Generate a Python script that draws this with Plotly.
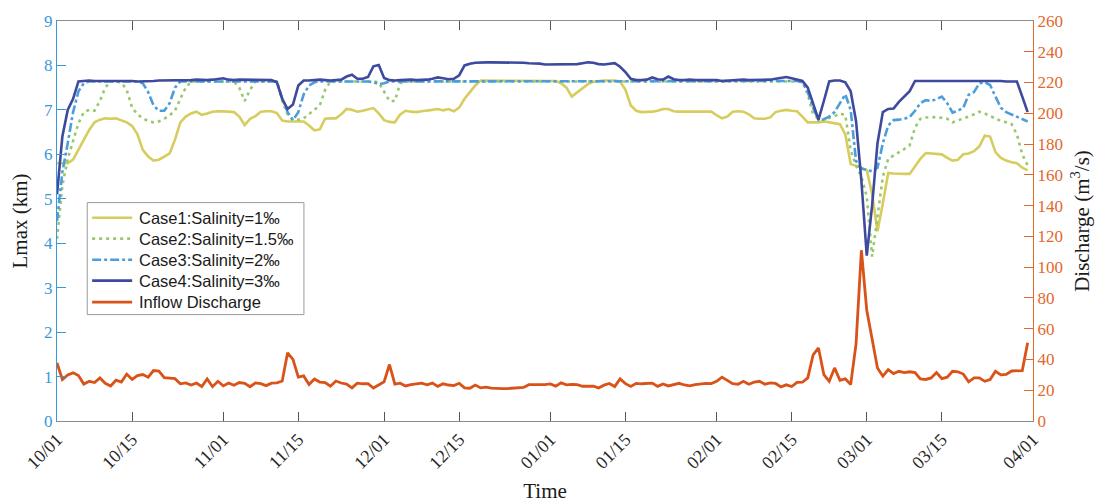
import pandas as pd
import plotly.graph_objects as go

# Daily series, 1 Oct to 31 Mar
start_date = "2018-10-01"

case1 = [
    5.80, 5.80, 5.80, 5.88, 6.10, 6.35, 6.55, 6.72, 6.78, 6.81,
    6.80, 6.81, 6.77, 6.72, 6.64, 6.45, 6.10, 5.95, 5.86, 5.88,
    5.95, 6.02, 6.33, 6.72, 6.85, 6.92, 6.96, 6.89, 6.92, 6.96,
    6.97, 6.97, 6.96, 6.95, 6.85, 6.66, 6.80, 6.86, 6.96, 6.97,
    6.97, 6.93, 6.76, 6.74, 6.74, 6.74, 6.74, 6.65, 6.54, 6.56,
    6.80, 6.81, 6.81, 6.90, 7.02, 7.00, 6.96, 6.98, 7.01, 7.04,
    6.92, 6.77, 6.73, 6.72, 6.90, 6.98, 6.96, 6.95, 6.97, 6.98,
    7.00, 7.02, 6.99, 7.02, 6.97, 7.05, 7.25, 7.40, 7.55, 7.66,
    7.66, 7.66, 7.66, 7.66, 7.66, 7.66, 7.66, 7.66, 7.66, 7.66,
    7.66, 7.66, 7.66, 7.65, 7.60, 7.50, 7.30, 7.40, 7.50, 7.58,
    7.63, 7.65, 7.66, 7.66, 7.66, 7.64, 7.45, 7.10, 6.98, 6.95,
    6.95, 6.96, 6.98, 7.02, 7.02, 6.97, 6.96, 6.96, 6.96, 6.96,
    6.96, 6.96, 6.96, 6.88, 6.81, 6.85, 6.96, 6.97, 6.96, 6.90,
    6.81, 6.80, 6.80, 6.83, 6.95, 6.98, 7.00, 6.98, 6.97, 6.85,
    6.72, 6.72, 6.72, 6.74, 6.72, 6.71, 6.68, 6.45, 5.78, 5.74,
    5.70, 5.65, 5.10, 4.27, 4.90, 5.58, 5.57, 5.56, 5.56, 5.56,
    5.72, 5.90, 6.03, 6.02, 6.02, 6.00, 5.92, 5.86, 5.88, 6.00,
    6.02, 6.07, 6.18, 6.42, 6.40, 6.05, 5.92, 5.86, 5.82, 5.80,
    5.70, 5.64,
]

case2 = [
    4.10, 5.30, 5.90, 6.33, 6.70, 6.95, 7.00, 6.98, 7.20, 7.50,
    7.64, 7.64, 7.62, 7.45, 7.05, 6.90, 6.81, 6.75, 6.72, 6.74,
    6.80, 6.88, 6.98, 7.25, 7.50, 7.64, 7.64, 7.64, 7.64, 7.64,
    7.64, 7.64, 7.64, 7.64, 7.50, 7.20, 7.45, 7.64, 7.64, 7.64,
    7.64, 7.64, 7.20, 6.90, 6.77, 6.78, 6.81, 6.90, 7.00, 7.10,
    7.45, 7.64, 7.64, 7.64, 7.64, 7.64, 7.64, 7.64, 7.64, 7.64,
    7.62, 7.40, 7.20, 7.20, 7.60, 7.64, 7.64, 7.64, 7.64, 7.64,
    7.64, 7.64, 7.64, 7.64, 7.64, 7.64, 7.64, 7.64, 7.64, 7.64,
    7.64, 7.64, 7.64, 7.64, 7.64, 7.64, 7.64, 7.64, 7.64, 7.64,
    7.64, 7.64, 7.64, 7.64, 7.64, 7.64, 7.64, 7.64, 7.64, 7.64,
    7.64, 7.64, 7.64, 7.64, 7.64, 7.64, 7.64, 7.64, 7.64, 7.64,
    7.64, 7.64, 7.64, 7.64, 7.64, 7.64, 7.64, 7.64, 7.64, 7.64,
    7.64, 7.64, 7.64, 7.64, 7.64, 7.64, 7.64, 7.64, 7.64, 7.64,
    7.64, 7.64, 7.64, 7.64, 7.64, 7.64, 7.64, 7.64, 7.64, 7.64,
    7.35, 6.90, 6.80, 6.77, 6.82, 6.86, 6.92, 6.88, 6.10, 5.75,
    5.50, 5.05, 3.70, 4.60, 5.50, 5.90, 5.97, 6.05, 6.12, 6.20,
    6.60, 6.80, 6.83, 6.83, 6.84, 6.82, 6.80, 6.72, 6.76, 6.80,
    6.85, 6.90, 6.96, 6.92, 6.86, 6.80, 6.75, 6.72, 6.68, 6.45,
    6.00, 5.75,
]

case3 = [
    4.50, 5.60, 6.25, 6.95, 7.42, 7.60, 7.64, 7.64, 7.64, 7.64,
    7.64, 7.64, 7.64, 7.64, 7.64, 7.64, 7.60, 7.40, 7.10, 6.98,
    6.98, 7.15, 7.50, 7.64, 7.64, 7.64, 7.64, 7.64, 7.64, 7.64,
    7.64, 7.64, 7.64, 7.64, 7.64, 7.64, 7.64, 7.64, 7.64, 7.64,
    7.64, 7.64, 7.25, 6.95, 6.77, 6.95, 7.35, 7.55, 7.62, 7.64,
    7.64, 7.64, 7.64, 7.64, 7.64, 7.64, 7.64, 7.64, 7.64, 7.62,
    7.58, 7.60, 7.64, 7.64, 7.64, 7.64, 7.64, 7.64, 7.64, 7.64,
    7.65, 7.65, 7.65, 7.65, 7.65, 7.65, 7.65, 7.65, 7.65, 7.65,
    7.65, 7.65, 7.65, 7.65, 7.65, 7.65, 7.65, 7.65, 7.65, 7.65,
    7.65, 7.65, 7.65, 7.65, 7.65, 7.65, 7.65, 7.65, 7.65, 7.65,
    7.65, 7.65, 7.65, 7.65, 7.65, 7.65, 7.65, 7.65, 7.65, 7.65,
    7.65, 7.65, 7.65, 7.65, 7.65, 7.65, 7.65, 7.65, 7.65, 7.65,
    7.65, 7.65, 7.65, 7.65, 7.65, 7.65, 7.65, 7.65, 7.65, 7.65,
    7.65, 7.65, 7.65, 7.65, 7.65, 7.65, 7.65, 7.65, 7.65, 7.62,
    7.40, 7.05, 6.77, 6.79, 6.85, 6.95, 7.15, 7.35, 7.00, 5.85,
    5.68, 5.65, 5.62, 5.70, 6.25, 6.65, 6.77, 6.78, 6.80, 6.84,
    6.98, 7.15, 7.22, 7.20, 7.24, 7.30, 7.15, 6.94, 6.98, 7.05,
    7.34, 7.40, 7.60, 7.62, 7.56, 7.30, 7.05, 6.95, 6.90, 6.85,
    6.80, 6.74,
]

case4 = [
    5.10, 6.40, 7.00, 7.25, 7.64, 7.65, 7.66, 7.65, 7.65, 7.66,
    7.66, 7.65, 7.65, 7.66, 7.65, 7.64, 7.64, 7.65, 7.65, 7.66,
    7.66, 7.67, 7.66, 7.66, 7.67, 7.67, 7.68, 7.67, 7.67, 7.68,
    7.69, 7.71, 7.68, 7.67, 7.68, 7.68, 7.68, 7.68, 7.68, 7.68,
    7.67, 7.62, 7.25, 7.02, 7.12, 7.55, 7.66, 7.66, 7.67, 7.68,
    7.67, 7.66, 7.67, 7.68, 7.75, 7.79, 7.70, 7.70, 7.74, 7.98,
    8.01, 7.72, 7.67, 7.66, 7.67, 7.68, 7.68, 7.67, 7.67, 7.68,
    7.70, 7.73, 7.71, 7.69, 7.70, 7.78, 8.00, 8.04, 8.06, 8.07,
    8.07, 8.07, 8.07, 8.07, 8.07, 8.07, 8.07, 8.06, 8.05, 8.05,
    8.04, 8.02, 8.02, 8.02, 8.02, 8.02, 8.02, 8.03, 8.05, 8.07,
    8.06, 8.03, 8.02, 8.04, 8.05, 7.97, 7.85, 7.70, 7.67, 7.67,
    7.68, 7.73, 7.69, 7.68, 7.75, 7.69, 7.67, 7.67, 7.68, 7.67,
    7.67, 7.67, 7.68, 7.67, 7.65, 7.66, 7.67, 7.67, 7.68, 7.67,
    7.67, 7.67, 7.68, 7.68, 7.70, 7.72, 7.74, 7.71, 7.68, 7.65,
    7.50, 7.15, 6.78, 7.20, 7.64, 7.66, 7.66, 7.62, 7.42, 6.75,
    5.40, 3.72, 4.85, 6.25, 6.95, 7.02, 7.03, 7.18, 7.30, 7.42,
    7.65, 7.65, 7.66, 7.65, 7.65, 7.66, 7.66, 7.65, 7.66, 7.66,
    7.66, 7.66, 7.66, 7.66, 7.65, 7.65, 7.65, 7.64, 7.64, 7.64,
    7.30, 6.95,
]

discharge = [
    37.8, 27.0, 30.0, 31.3, 29.5, 24.0, 25.8, 25.0, 28.0, 24.5,
    22.8, 26.5, 25.3, 30.5, 27.0, 29.5, 30.2, 28.5, 32.8, 32.5,
    28.2, 27.8, 27.5, 24.2, 24.8, 23.4, 24.6, 22.4, 27.3, 22.3,
    25.8, 22.8, 24.7, 23.2, 25.0, 24.5, 22.3, 24.8, 24.3, 23.0,
    24.6, 24.8, 26.0, 44.3, 40.0, 28.5, 29.3, 23.7, 27.3, 25.3,
    25.0, 22.6, 26.0, 24.7, 24.0, 21.5, 24.6, 24.2, 24.3, 21.4,
    23.5, 25.5, 36.7, 24.0, 24.6, 22.8, 23.6, 24.3, 24.6, 23.5,
    24.6, 22.5, 24.2, 23.4, 23.0, 24.5, 21.6, 21.3, 23.4, 21.5,
    22.0, 21.4, 21.0, 21.0, 21.1, 21.2, 21.5, 21.8, 23.6, 23.6,
    23.2, 23.6, 24.1, 22.7, 24.8, 23.5, 23.8, 23.6, 22.6, 22.6,
    22.6, 21.5, 23.3, 24.4, 22.4, 27.4, 24.3, 22.5, 24.5, 24.2,
    24.6, 24.6, 22.5, 24.1, 22.8, 23.8, 24.5, 23.4, 22.8, 23.6,
    23.9, 24.5, 24.3, 25.8, 28.5, 26.5, 24.3, 23.9, 25.8, 23.9,
    25.2, 25.8, 23.9, 24.8, 24.4, 22.2, 23.5, 22.4, 25.1, 25.2,
    28.0, 43.0, 47.5, 30.2, 25.8, 34.5, 26.5, 27.4, 23.7, 50.0,
    111.0, 72.0, 53.0, 34.5, 29.1, 33.4, 30.8, 32.3, 31.5, 32.0,
    31.5, 27.4, 27.0, 28.0, 31.5, 27.5, 28.5, 32.3, 32.0, 30.5,
    25.5, 28.0, 28.0, 25.8, 27.0, 32.3, 30.0, 30.3, 32.5, 32.8,
    32.8, 50.8,
]

tick_dates = ["2018-10-01", "2018-10-15", "2018-11-01", "2018-11-15",
              "2018-12-01", "2018-12-15", "2019-01-01", "2019-01-15",
              "2019-02-01", "2019-02-15", "2019-03-01", "2019-03-15",
              "2019-04-01"]
tick_labels = ["10/01", "10/15", "11/01", "11/15", "12/01", "12/15",
               "01/01", "01/15", "02/01", "02/15", "03/01", "03/15",
               "04/01"]

series_names = ["Case1:Salinity=1‰", "Case2:Salinity=1.5‰",
                "Case3:Salinity=2‰", "Case4:Salinity=3‰",
                "Inflow Discharge"]

dates = pd.date_range(start_date, periods=len(discharge), freq="D")

SERIF = "Liberation Serif"
SANS = "Liberation Sans"
LEFT_C = "#3A98D8"
RIGHT_C = "#E2682E"
FRAME_C = "#8C8C8C"

line_styles = [
    dict(color="#D6CD5E", width=2.6, dash="solid"),
    dict(color="#97C96C", width=2.6, dash="3px,4px"),
    dict(color="#4C9EDB", width=2.6, dash="9px,3px,3px,3px"),
    dict(color="#3D4A9E", width=2.6, dash="solid"),
    dict(color="#D95319", width=2.8, dash="solid"),
]

fig = go.Figure()

for name, vals, st in zip(series_names[:4], [case1, case2, case3, case4], line_styles[:4]):
    fig.add_trace(go.Scatter(x=dates, y=vals, name=name, mode="lines",
                             line=st, yaxis="y", showlegend=False))

fig.add_trace(go.Scatter(x=dates, y=discharge, name=series_names[4],
                         mode="lines", line=line_styles[4],
                         yaxis="y2", showlegend=False))

# Boxed legend in the lower-left of the plot area (paper coordinates)
box_x0, box_x1 = 0.031, 0.253
box_y0, box_y1 = 0.266, 0.546
row_y = [0.508, 0.456, 0.403, 0.351, 0.297]
sample_x0, sample_x1, text_x = 0.036, 0.077, 0.082

shapes = [dict(type="rect", xref="paper", yref="paper",
               x0=box_x0, x1=box_x1, y0=box_y0, y1=box_y1,
               line=dict(color="#9A9A9A", width=1), fillcolor="white",
               layer="above")]
annotations = []
for name, st, yy in zip(series_names, line_styles, row_y):
    shapes.append(dict(type="line", xref="paper", yref="paper",
                       x0=sample_x0, x1=sample_x1, y0=yy, y1=yy,
                       line=dict(color=st["color"], width=st["width"], dash=st["dash"]),
                       layer="above"))
    annotations.append(dict(text=name, xref="paper", yref="paper",
                            x=text_x, y=yy, xanchor="left", yanchor="middle",
                            showarrow=False,
                            font=dict(family=SANS, size=16.5, color="#1A1A1A")))

fig.update_layout(
    width=1099, height=503,
    margin=dict(l=57, r=66, t=21, b=81.5),
    paper_bgcolor="white", plot_bgcolor="white",
    shapes=shapes, annotations=annotations,
    xaxis=dict(
        type="date", automargin=False,
        range=["2018-10-01", "2019-04-01"],
        tickvals=tick_dates, ticktext=tick_labels, tickangle=-45,
        ticks="inside", ticklen=9, tickcolor="#555555",
        showline=True, linecolor=FRAME_C, linewidth=1, mirror="ticks",
        showgrid=False, zeroline=False,
        tickfont=dict(family=SERIF, size=18, color="#262626"),
        title=dict(text="Time", font=dict(family=SERIF, size=21, color="#1A1A1A"),
                   standoff=12),
    ),
    yaxis=dict(
        range=[0, 9], dtick=1, automargin=False,
        ticks="inside", ticklen=9, tickcolor=LEFT_C,
        showline=True, linecolor=LEFT_C, linewidth=1,
        showgrid=False, zeroline=False,
        tickfont=dict(family=SERIF, size=17, color=LEFT_C),
        title=dict(text="Lmax (km)", font=dict(family=SERIF, size=21, color="#1A1A1A"),
                   standoff=10),
    ),
    yaxis2=dict(
        range=[0, 260], dtick=20, overlaying="y", side="right", automargin=False,
        ticks="inside", ticklen=9, tickcolor=RIGHT_C,
        showline=True, linecolor=RIGHT_C, linewidth=1,
        showgrid=False, zeroline=False,
        tickfont=dict(family=SERIF, size=17, color=RIGHT_C),
        title=dict(text="Discharge (m<sup>3</sup>/s)",
                   font=dict(family=SERIF, size=21, color="#1A1A1A"),
                   standoff=12),
    ),
)

fig.write_html("out.html")
